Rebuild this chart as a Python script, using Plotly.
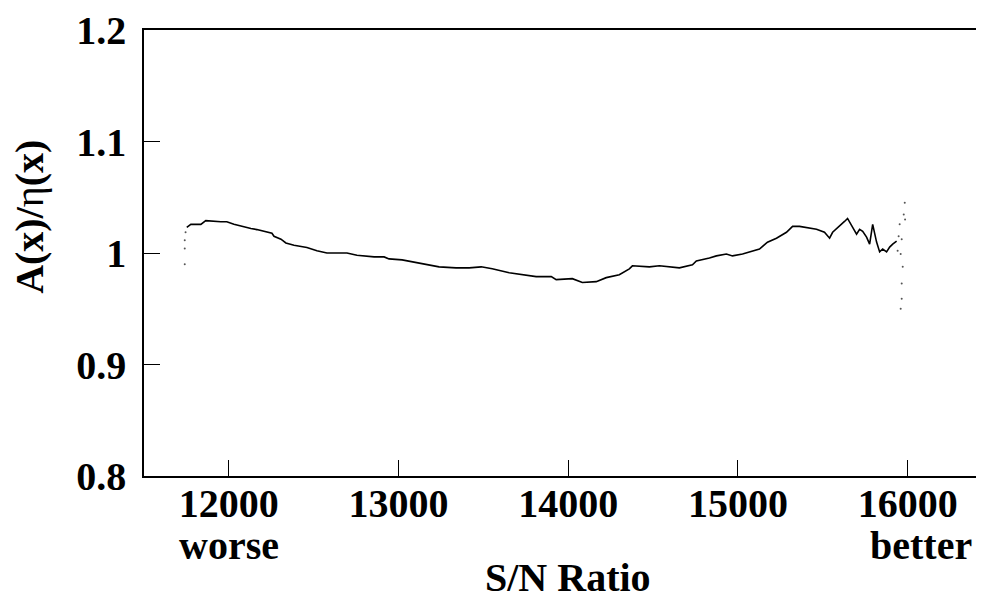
import plotly.graph_objects as go

# Main curve (S/N ratio vs A(x)/eta(x))
sn_ratio = [11752, 11776, 11835, 11864, 11953, 11988, 12030, 12071, 12130, 12165,
            12207, 12254, 12266, 12307, 12336, 12384, 12460, 12519, 12578, 12696,
            12755, 12814, 12856, 12915, 12944, 13021, 13080, 13162, 13239, 13339,
            13416, 13487, 13552, 13652, 13729, 13811, 13900, 13929, 14024, 14083,
            14165, 14224, 14301, 14360, 14378, 14478, 14537, 14655, 14732, 14755,
            14832, 14873, 14932, 14968, 15027, 15086, 15127, 15174, 15227, 15286,
            15322, 15363, 15404, 15463, 15510, 15540, 15558, 15599, 15628, 15646,
            15670, 15699, 15717, 15735, 15758, 15776, 15794, 15817, 15835, 15853,
            15876, 15894, 15912, 15935]
ratio = [1.023, 1.0257, 1.0257, 1.029, 1.028, 1.028, 1.0257, 1.024, 1.022, 1.021,
         1.0195, 1.0177, 1.015, 1.0124, 1.009, 1.007, 1.005, 1.002, 1.000, 1.000,
         0.998, 0.997, 0.9965, 0.9965, 0.9947, 0.9938, 0.992, 0.9894, 0.9876, 0.9867,
         0.9867, 0.9876, 0.9859, 0.9823, 0.9805, 0.9788, 0.9788, 0.9761, 0.977, 0.9735,
         0.9743, 0.9779, 0.9805, 0.9858, 0.9885, 0.9876, 0.9885, 0.9867, 0.9894, 0.9929,
         0.9956, 0.9974, 0.9991, 0.9974, 0.9991, 1.0018, 1.0036, 1.0097, 1.0133, 1.0186,
         1.0239, 1.0239, 1.023, 1.0213, 1.0186, 1.0133, 1.0186, 1.0239, 1.0283, 1.031,
         1.0239, 1.0168, 1.0213, 1.0195, 1.0142, 1.008, 1.0257, 1.0098, 1.001, 1.0036,
         1.001, 1.0053, 1.008, 1.0106]

# Sparse scattered points at both ends
dots_x = [11740, 11740, 11740, 11745, 15983, 15977, 15953, 15965, 15959, 15971,
          15965, 15965, 15959, 15947, 15941, 15985]
dots_y = [0.990, 1.004, 1.0115, 1.0186, 1.045, 1.0345, 1.0257, 1.0124, 0.999, 0.9876,
          0.9726, 0.959, 0.950, 1.015, 1.002, 1.030]

x_ticks = [12000, 13000, 14000, 15000, 16000]
x_tick_text = ["12000", "13000", "14000", "15000", "16000"]
y_ticks = [0.8, 0.9, 1.0, 1.1, 1.2]
y_tick_text = ["0.8", "0.9", "1", "1.1", "1.2"]

FONT = "Liberation Serif"

fig = go.Figure()
fig.add_trace(go.Scatter(x=sn_ratio, y=ratio, mode="lines",
                         line=dict(color="black", width=1.6), showlegend=False))
fig.add_trace(go.Scatter(x=dots_x, y=dots_y, mode="markers",
                         marker=dict(color="#555555", size=2), showlegend=False))

fig.update_layout(
    width=976, height=583,
    margin=dict(l=136, r=0, t=15, b=115),
    paper_bgcolor="white", plot_bgcolor="white",
    font=dict(family=FONT, color="black", size=40),
    xaxis=dict(range=[11500, 16450], tickvals=x_ticks, ticktext=x_tick_text,
               ticks="inside", ticklen=16, tickwidth=1, tickcolor="black",
               showline=True, linecolor="black", linewidth=1.5, mirror=True,
               showgrid=False, zeroline=False, ticklabelstandoff=-9,
               ticklabeloverflow="allow",
               tickfont=dict(family=FONT, size=40, color="black", weight="bold")),
    yaxis=dict(range=[0.8, 1.2], tickvals=y_ticks, ticktext=y_tick_text,
               ticks="inside", ticklen=16, tickwidth=1, tickcolor="black",
               showline=True, linecolor="black", linewidth=1.5,
               showgrid=False, zeroline=False, ticklabelstandoff=8,
               ticklabeloverflow="allow",
               tickfont=dict(family=FONT, size=40, color="black", weight="bold")),
)

fig.add_annotation(text="<b>worse</b>", x=12000, xref="x", y=0, yref="paper",
                   yshift=-69, showarrow=False, xanchor="center", yanchor="middle",
                   font=dict(family=FONT, size=40, color="black"))
fig.add_annotation(text="<b>better</b>", x=16389, xref="x", y=0, yref="paper",
                   yshift=-69, showarrow=False, xanchor="right", yanchor="middle",
                   font=dict(family=FONT, size=40, color="black"))
fig.add_annotation(text="<b>S/N Ratio</b>", x=14000, xref="x", y=0, yref="paper",
                   yshift=-101, showarrow=False, xanchor="center", yanchor="middle",
                   font=dict(family=FONT, size=40, color="black"))
fig.add_annotation(text="<b>A(x)/</b>η<b>(x)</b>", x=0, xref="paper", xshift=-114,
                   y=0.581, yref="paper", textangle=-90, showarrow=False,
                   xanchor="center", yanchor="middle",
                   font=dict(family=FONT, size=40, color="black"))

fig.write_html("out.html")
